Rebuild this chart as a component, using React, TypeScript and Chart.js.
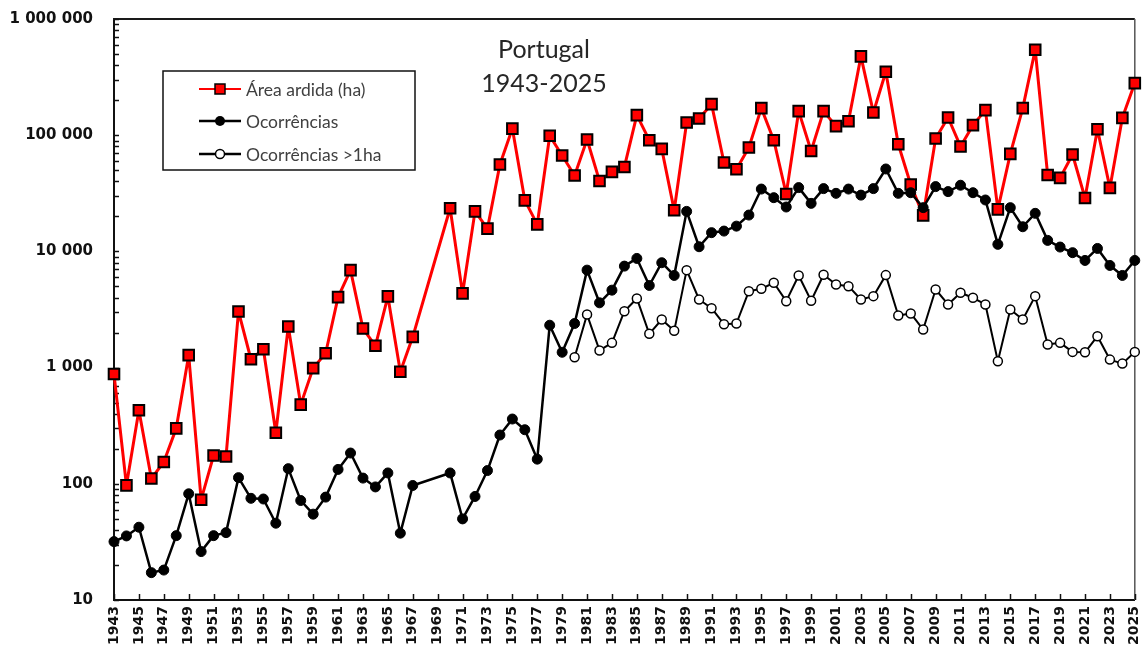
import React, { useEffect, useRef } from "react";
import { Chart, registerables } from "chart.js";

Chart.register(...registerables);

const years = [
  "1943", "1944", "1945", "1946", "1947", "1948", "1949", "1950", "1951", "1952",
  "1953", "1954", "1955", "1956", "1957", "1958", "1959", "1960", "1961", "1962",
  "1963", "1964", "1965", "1966", "1967", "1968", "1969", "1970", "1971", "1972",
  "1973", "1974", "1975", "1976", "1977", "1978", "1979", "1980", "1981", "1982",
  "1983", "1984", "1985", "1986", "1987", "1988", "1989", "1990", "1991", "1992",
  "1993", "1994", "1995", "1996", "1997", "1998", "1999", "2000", "2001", "2002",
  "2003", "2004", "2005", "2006", "2007", "2008", "2009", "2010", "2011", "2012",
  "2013", "2014", "2015", "2016", "2017", "2018", "2019", "2020", "2021", "2022",
  "2023", "2024", "2025",
];

// Área ardida (ha)
const areaArdida = [
  880, 97, 430, 111, 154, 300, 1280, 73, 175, 172,
  3040, 1180, 1440, 275, 2260, 480, 990, 1330, 4040, 6900,
  2170, 1540, 4100, 920, 1840, null, null, 23500, 4350, 22100,
  15700, 55900, 114000, 27500, 17100, 99000, 66800, 45000, 91800, 40400,
  48300, 53300, 148700, 90600, 76200, 22600, 128600, 139300, 185000, 58200,
  50900, 78300, 171000, 90600, 31200, 161000, 73200, 161000, 119600, 132000,
  476700, 157000, 351500, 83600, 37600, 20400, 93700, 142000, 80000, 122000,
  164400, 23000, 69000, 171000, 543800, 45500, 42900, 68200, 28800, 112600,
  35200, 141000, 280800,
];

// Ocorrências
const ocorrencias = [
  31.8, 35.6, 42.3, 17.2, 18.1, 35.8, 82, 26.1, 35.8, 38,
  113, 75, 74, 45.8, 135, 71.8, 54.8, 76.8, 133, 184,
  112, 94, 124, 37.6, 96.7, null, null, 124, 49.9, 77.8,
  130, 263, 361, 292, 163, 2316, 1355, 2396, 6900, 3611,
  4640, 7470, 8700, 5090, 7990, 6210, 22100, 10970, 14500, 14960,
  16500, 20550, 34400, 29000, 24100, 35400, 25900, 34700, 31600, 34400,
  30500, 34700, 51200, 31600, 32000, 23800, 36100, 32700, 37100, 32000,
  27700, 11500, 23800, 16300, 21260, 12440, 10900, 9750, 8360, 10600,
  7570, 6210, 8360,
];

// Ocorrências >1ha
const ocorrenciasMaior1ha = [
  null, null, null, null, null, null, null, null, null, null,
  null, null, null, null, null, null, null, null, null, null,
  null, null, null, null, null, null, null, null, null, null,
  null, null, null, null, null, null, null, 1227, 2860, 1405,
  1633, 3058, 3936, 1953, 2594, 2072, 6900, 3855, 3245, 2363,
  2396, 4545, 4770, 5370, 3730, 6210, 3760, 6300, 5195, 5020,
  3855, 4120, 6250, 2807, 2922, 2127, 4700, 3493, 4405, 3990,
  3493, 1133, 3162, 2594, 4120, 1578, 1633, 1365, 1355, 1862,
  1172, 1082, 1365,
];

const yMajorTicks = [10, 100, 1000, 10000, 100000, 1000000];
const yTickLabels = ["10", "100", "1 000", "10 000", "100 000", "1 000 000"];
const yMinorMultipliers = [2, 3, 4, 5, 6, 7, 8, 9];

const titleLines = ["Portugal", "1943-2025"];
const legendLabels = ["Área ardida (ha)", "Ocorrências", "Ocorrências >1ha"];

const decorPlugin = {
  id: "decor",
  beforeDatasetsDraw(chart: any) {
    const { ctx, chartArea: a, scales } = chart;
    const xs = scales.x;
    const ys = scales.y;
    ctx.save();
    ctx.lineCap = "butt";
    // top border
    ctx.strokeStyle = "#1a1a1a";
    ctx.lineWidth = 2;
    ctx.beginPath();
    ctx.moveTo(a.left - 1, a.top);
    ctx.lineTo(a.right, a.top);
    ctx.stroke();
    // right border
    ctx.strokeStyle = "#555";
    ctx.lineWidth = 1.5;
    ctx.beginPath();
    ctx.moveTo(a.right, a.top);
    ctx.lineTo(a.right, a.bottom);
    ctx.stroke();
    // y ticks (inward)
    ctx.strokeStyle = "#111";
    ctx.lineWidth = 1.5;
    for (let d = 0; d < yMajorTicks.length; d++) {
      const base = yMajorTicks[d];
      const vals = [base];
      if (d < yMajorTicks.length - 1) yMinorMultipliers.forEach((m) => vals.push(base * m));
      vals.forEach((v) => {
        const py = Math.round(ys.getPixelForValue(v)) + 0.5;
        ctx.beginPath();
        ctx.moveTo(a.left, py);
        ctx.lineTo(a.left + 5, py);
        ctx.stroke();
      });
    }
    // x ticks (inward) at odd years
    for (let i = 0; i < years.length; i += 2) {
      const px = Math.round(xs.getPixelForValue(i)) + 0.5;
      ctx.beginPath();
      ctx.moveTo(px, a.bottom);
      ctx.lineTo(px, a.bottom - 6);
      ctx.stroke();
    }
    ctx.restore();
  },
  afterDraw(chart: any) {
    const { ctx, chartArea: a } = chart;
    ctx.save();
    // Title
    ctx.fillStyle = "#262626";
    ctx.font = "25px Lato";
    ctx.textAlign = "center";
    ctx.textBaseline = "middle";
    const tx = a.left + 430;
    ctx.fillText(titleLines[0], tx, a.top + 31);
    ctx.fillText(titleLines[1], tx, a.top + 65);

    // Legend box
    const bx = a.left + 49;
    const by = a.top + 52;
    const bw = 252;
    const bh = 99;
    ctx.fillStyle = "#fff";
    ctx.fillRect(bx, by, bw, bh);
    ctx.strokeStyle = "#111";
    ctx.lineWidth = 1.5;
    ctx.strokeRect(bx, by, bw, bh);

    const rows = [by + 18, by + 50, by + 83];
    const x0 = bx + 36;
    const x1 = bx + 78;
    const xm = (x0 + x1) / 2;
    ctx.font = "17.5px Lato";
    ctx.textAlign = "left";
    ctx.textBaseline = "middle";
    rows.forEach((ry, i) => {
      ctx.beginPath();
      ctx.moveTo(x0, ry);
      ctx.lineTo(x1, ry);
      ctx.strokeStyle = i === 0 ? "#ff0000" : "#000";
      ctx.lineWidth = i === 0 ? 2 : 2.5;
      ctx.stroke();
      if (i === 0) {
        ctx.fillStyle = "#ff0000";
        ctx.fillRect(xm - 5, ry - 5, 10, 10);
        ctx.strokeStyle = "#000";
        ctx.lineWidth = 1.5;
        ctx.strokeRect(xm - 5, ry - 5, 10, 10);
      } else if (i === 1) {
        ctx.fillStyle = "#000";
        ctx.beginPath();
        ctx.arc(xm, ry, 5, 0, Math.PI * 2);
        ctx.fill();
      } else {
        ctx.fillStyle = "#fff";
        ctx.beginPath();
        ctx.arc(xm, ry, 4.5, 0, Math.PI * 2);
        ctx.fill();
        ctx.strokeStyle = "#000";
        ctx.lineWidth = 1.5;
        ctx.stroke();
      }
      ctx.fillStyle = "#404040";
      ctx.fillText(legendLabels[i], x1 + 5, ry + 1);
    });
    ctx.restore();
  },
};

export default function App() {
  const canvasRef = useRef<HTMLCanvasElement | null>(null);

  useEffect(() => {
    document.body.style.margin = "0";
    const canvas = canvasRef.current;
    if (!canvas) return;
    const chart = new Chart(canvas, {
      type: "line",
      data: {
        labels: years,
        datasets: [
          {
            label: legendLabels[0],
            data: areaArdida,
            borderColor: "#ff0000",
            borderWidth: 3,
            borderJoinStyle: "round",
            pointStyle: "rect",
            pointRadius: 7.5,
            pointBackgroundColor: "#ff0000",
            pointBorderColor: "#000",
            pointBorderWidth: 2,
            spanGaps: true,
            order: 1,
            tension: 0,
          },
          {
            label: legendLabels[1],
            data: ocorrencias,
            borderColor: "#000",
            borderWidth: 2.5,
            borderJoinStyle: "round",
            pointStyle: "circle",
            pointRadius: 5,
            pointBackgroundColor: "#000",
            pointBorderColor: "#000",
            pointBorderWidth: 1,
            spanGaps: true,
            order: 0,
            tension: 0,
          },
          {
            label: legendLabels[2],
            data: ocorrenciasMaior1ha,
            borderColor: "#000",
            borderWidth: 2,
            borderJoinStyle: "round",
            pointStyle: "circle",
            pointRadius: 4.5,
            pointBackgroundColor: "#fff",
            pointBorderColor: "#000",
            pointBorderWidth: 1.5,
            spanGaps: true,
            order: 2,
            tension: 0,
          },
        ],
      },
      options: {
        animation: false,
        responsive: false,
        maintainAspectRatio: false,
        layout: { padding: { top: 19, right: 11, left: 0, bottom: 0 } },
        plugins: {
          legend: { display: false },
          tooltip: { enabled: false },
          title: { display: false },
        },
        scales: {
          x: {
            type: "category",
            offset: false,
            grid: {
              display: true,
              drawOnChartArea: false,
              drawTicks: true,
              tickLength: 6,
              tickColor: "rgba(0,0,0,0)",
            },
            border: { display: true, color: "#111", width: 2 },
            ticks: {
              autoSkip: false,
              maxRotation: 90,
              minRotation: 90,
              padding: 0,
              color: "#111",
              font: { family: "DejaVu Sans", weight: "bold", size: 14, lineHeight: 0.8 },
              callback: (_v: any, i: number) => (i % 2 === 0 ? years[i] : null),
            },
            afterFit: (s: any) => {
              s.height = 57;
            },
          },
          y: {
            type: "logarithmic",
            min: 10,
            max: 1000000,
            grid: {
              display: true,
              drawOnChartArea: false,
              drawTicks: true,
              tickLength: 21,
              tickColor: "rgba(0,0,0,0)",
            },
            border: { display: true, color: "#111", width: 2 },
            afterBuildTicks: (s: any) => {
              s.ticks = yMajorTicks.map((v) => ({ value: v }));
            },
            ticks: {
              padding: 0,
              color: "#111",
              font: { family: "DejaVu Sans", weight: "bold", size: 15 },
              callback: (v: any) => {
                const idx = yMajorTicks.indexOf(Number(v));
                return idx >= 0 ? yTickLabels[idx] : "";
              },
            },
            afterFit: (s: any) => {
              s.width = 114;
            },
          },
        },
      },
      plugins: [decorPlugin],
    });
    return () => chart.destroy();
  }, []);

  return (
    <div style={{ width: 1146, height: 657 }}>
      <canvas ref={canvasRef} width={1146} height={657} style={{ display: "block" }} />
    </div>
  );
}
